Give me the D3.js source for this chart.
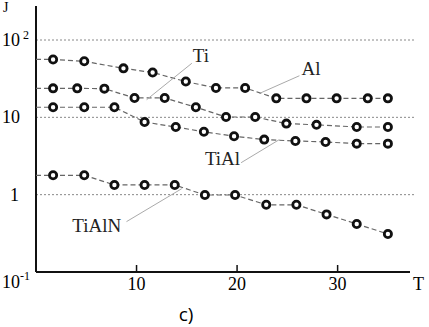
<!DOCTYPE html>
<html>
<head>
<meta charset="utf-8">
<script src="https://cdn.jsdelivr.net/npm/d3@7"></script>
<style>
body { margin: 0; background: white; }
svg { display: block; }
</style>
</head>
<body>
<svg></svg>
<script>
var w = 429
var h = 327

// data
var seriesNames = ["Al", "Ti", "TiAl", "TiAlN"]
var tAl = [1.7, 4.8, 8.7, 11.6, 14.9, 17.9, 20.8, 23.9, 26.9, 29.9, 33.0, 35.0]
var jAl = [56, 53, 43, 38, 29, 24, 24, 17.6, 17.6, 17.6, 17.6, 17.6]
var tTi = [1.7, 4.1, 6.8, 9.8, 12.8, 15.9, 18.9, 21.8, 24.9, 27.9, 31.9, 35.0]
var jTi = [23.7, 23.7, 23.5, 17.8, 17.8, 13.5, 10.1, 10.1, 8.3, 8.0, 7.5, 7.5]
var tTiAl = [1.7, 4.8, 7.8, 10.8, 13.9, 16.7, 19.7, 22.7, 25.8, 28.8, 31.9, 35.0]
var jTiAl = [13.5, 13.5, 13.5, 8.7, 7.5, 6.5, 5.7, 5.15, 4.95, 4.8, 4.57, 4.57]
var tTiAlN = [1.7, 4.8, 7.8, 10.8, 13.8, 16.8, 19.8, 22.9, 25.9, 28.9, 31.9, 35.0]
var jTiAlN = [1.78, 1.78, 1.335, 1.335, 1.335, 0.99, 0.99, 0.74, 0.74, 0.556, 0.418, 0.31]

var xTicks = [10, 20, 30]
var yTicks = [0.1, 1, 10, 100]

// label text spot and leader line ends, in data units
var labelNames = ["Ti", "Al", "TiAl", "TiAlN"]
var labelT = [15.6, 26.4, 16.8, 3.6]
var labelJ = [52.6, 35.7, 2.44, 0.332]
var leaderFrom = [[15.5, 50], [26.2, 34.5], [20.4, 2.59], [9.0, 0.448]]
var leaderTo = [[11.0, 16.9], [22.2, 20.3], [24.2, 5.15], [14.5, 1.196]]

var allT = [tAl, tTi, tTiAl, tTiAlN]
var allJ = [jAl, jTi, jTiAl, jTiAlN]

var svg = d3.select("svg")
	.attr("width", w)
	.attr("height", h)
	.style("background-color", "white")

var x = d3.scaleLinear()
	.domain([0, 37])
	.range([36, 408])

var y = d3.scaleLog()
	.domain([0.1, 100])
	.range([272, 40])

var serif = "Liberation Serif, Times New Roman, serif"

// dotted grid lines
svg.selectAll(".grid")
	.data(yTicks.slice(1))
	.enter().append("line")
	.attr("x1", x(0))
	.attr("x2", 415)
	.attr("y1", function(d){ return y(d) })
	.attr("y2", function(d){ return y(d) })
	.attr("stroke", "#888")
	.attr("stroke-width", 1)
	.attr("stroke-dasharray", "2,2")

// axes
svg.append("line")
	.attr("x1", x(0)).attr("x2", x(0))
	.attr("y1", 6).attr("y2", y(0.1))
	.attr("stroke", "#111").attr("stroke-width", 2)

svg.append("line")
	.attr("x1", x(0)).attr("x2", 410)
	.attr("y1", y(0.1)).attr("y2", y(0.1))
	.attr("stroke", "#111").attr("stroke-width", 2)

svg.selectAll(".xtick")
	.data(xTicks)
	.enter().append("line")
	.attr("x1", function(d){ return x(d) })
	.attr("x2", function(d){ return x(d) })
	.attr("y1", y(0.1) - 7)
	.attr("y2", y(0.1))
	.attr("stroke", "#111").attr("stroke-width", 1.5)

svg.selectAll(".xlab")
	.data(xTicks)
	.enter().append("text")
	.attr("x", function(d){ return x(d) })
	.attr("y", y(0.1) + 18)
	.attr("text-anchor", "middle")
	.style("font-family", serif)
	.style("font-size", "18px")
	.text(function(d){ return d })

svg.append("text")
	.attr("x", 413).attr("y", y(0.1) + 18)
	.style("font-family", serif).style("font-size", "18px")
	.text("T")

svg.append("text")
	.attr("x", 3).attr("y", 12)
	.style("font-family", serif).style("font-size", "14px")
	.text("J")

// y tick labels
var y2 = svg.append("text")
	.attr("x", 2).attr("y", y(100) + 6)
	.style("font-family", serif).style("font-size", "18px")
y2.append("tspan").text("10")
y2.append("tspan").attr("dx", 3).attr("dy", -7).style("font-size", "12px").text("2")

svg.append("text")
	.attr("x", 2).attr("y", y(10) + 6)
	.style("font-family", serif).style("font-size", "18px")
	.text("10")

svg.append("text")
	.attr("x", 10).attr("y", y(1) + 6)
	.style("font-family", serif).style("font-size", "18px")
	.text("1")

var ym1 = svg.append("text")
	.attr("x", 2).attr("y", y(0.1) + 16)
	.style("font-family", serif).style("font-size", "18px")
ym1.append("tspan").text("10")
ym1.append("tspan").attr("dy", -8).style("font-size", "12px").text("-1")

// series lines
var line = d3.line()
	.x(function(d){ return x(d[0]) })
	.y(function(d){ return y(d[1]) })

for (var s = 0; s < seriesNames.length; s++) {
	var pts = allT[s].map(function(t, i){ return [t, allJ[s][i]] })
	var withStart = [[0, pts[0][1]]].concat(pts)

	svg.append("path")
		.attr("d", line(withStart))
		.attr("fill", "none")
		.attr("stroke", "#666")
		.attr("stroke-width", 1.2)
		.attr("stroke-dasharray", "5,3")

	svg.selectAll(".dot" + s)
		.data(pts)
		.enter().append("circle")
		.attr("cx", function(d){ return x(d[0]) })
		.attr("cy", function(d){ return y(d[1]) })
		.attr("r", 3.6)
		.attr("fill", "white")
		.attr("stroke", "#111")
		.attr("stroke-width", 2.8)
}

// labels with leader lines
for (var k = 0; k < labelNames.length; k++) {
	svg.append("line")
		.attr("x1", x(leaderFrom[k][0]))
		.attr("y1", y(leaderFrom[k][1]))
		.attr("x2", x(leaderTo[k][0]))
		.attr("y2", y(leaderTo[k][1]))
		.attr("stroke", "#aaa")
		.attr("stroke-width", 1)

	svg.append("text")
		.attr("x", x(labelT[k]))
		.attr("y", y(labelJ[k]))
		.style("font-family", serif)
		.style("font-size", "19px")
		.attr("fill", "#222")
		.text(labelNames[k])
}

svg.append("text")
	.attr("x", 186).attr("y", 321)
	.attr("text-anchor", "middle")
	.style("font-family", "Open Sans, Liberation Sans, sans-serif")
	.style("font-size", "19px")
	.text("c)")
</script>
</body>
</html>
